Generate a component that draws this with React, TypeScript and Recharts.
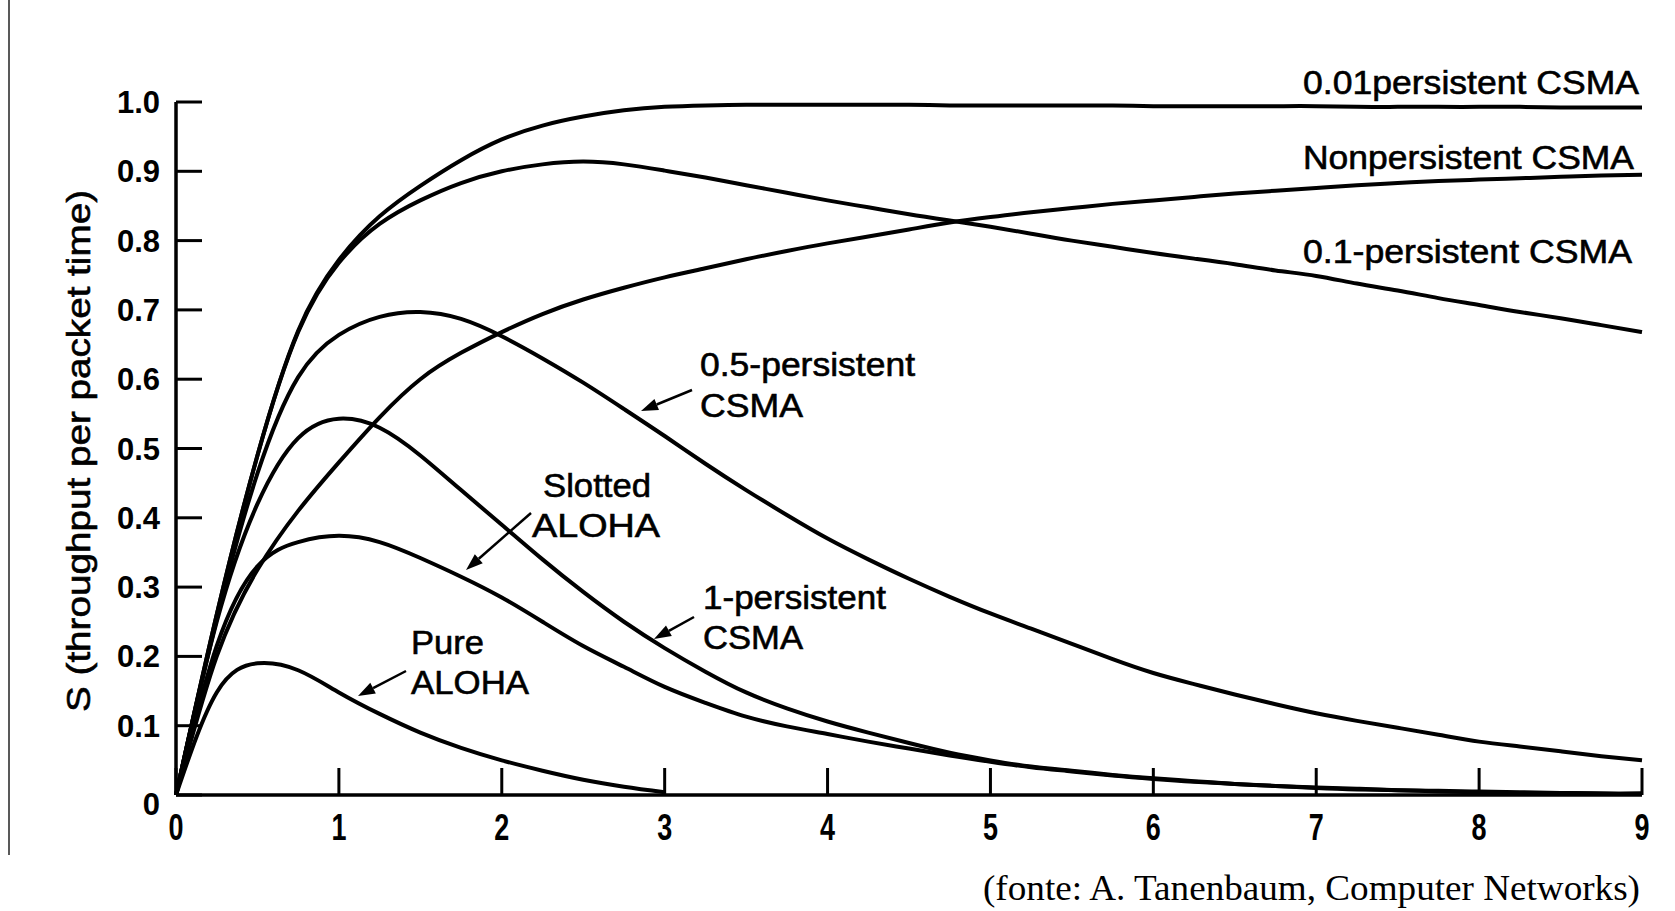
import React from 'react';
import { LineChart, Line, XAxis, YAxis } from 'recharts';

// offered load G (attempts per packet time), evenly spaced so the natural spline stays smooth
const G_VALUES = [
  0, 0.25, 0.5, 0.75, 1, 1.25, 1.5, 1.75, 2, 2.25, 2.5, 2.75, 3, 3.25, 3.5, 3.75, 4, 4.25, 4.5,
  4.75, 5, 5.25, 5.5, 5.75, 6, 6.25, 6.5, 6.75, 7, 7.25, 7.5, 7.75, 8, 8.25, 8.5, 8.75, 9,
];

// throughput S
const pureAloha = [
  0, 0.148, 0.19, 0.18, 0.148, 0.117, 0.09, 0.068, 0.05, 0.035, 0.022, 0.012, 0.004,
  null, null, null, null, null, null, null, null, null, null, null, null,
  null, null, null, null, null, null, null, null, null, null, null, null,
];
const slottedAloha = [
  0, 0.215, 0.33, 0.365, 0.374, 0.365, 0.342, 0.315, 0.285, 0.25, 0.215, 0.185, 0.156, 0.133, 0.113, 0.099,
  0.088, 0.077, 0.067, 0.057, 0.048, 0.04, 0.034, 0.028, 0.023, 0.019, 0.016, 0.013, 0.01, 0.008, 0.007,
  0.005, 0.004, 0.003, 0.003, 0.002, 0.002,
];
const persistent1 = [
  0, 0.25, 0.42, 0.515, 0.543, 0.53, 0.49, 0.44, 0.39, 0.34, 0.293, 0.25, 0.212, 0.178, 0.148, 0.125,
  0.106, 0.09, 0.075, 0.061, 0.05, 0.041, 0.035, 0.029, 0.024, 0.02, 0.016, 0.013, 0.011, 0.009, 0.007,
  0.006, 0.005, 0.004, 0.003, 0.002, 0.002,
];
const persistent05 = [
  0, 0.254, 0.464, 0.603, 0.664, 0.69, 0.697, 0.687, 0.662, 0.63, 0.595, 0.557, 0.518, 0.478, 0.44, 0.404,
  0.37, 0.34, 0.312, 0.286, 0.262, 0.24, 0.218, 0.196, 0.176, 0.16, 0.145, 0.131, 0.118, 0.107, 0.097,
  0.087, 0.077, 0.07, 0.063, 0.056, 0.05,
];
const nonpersistent = [
  0, 0.2, 0.325, 0.41, 0.48, 0.545, 0.6, 0.638, 0.668, 0.694, 0.715, 0.732, 0.747, 0.76, 0.773, 0.785,
  0.796, 0.806, 0.816, 0.826, 0.834, 0.841, 0.847, 0.853, 0.858, 0.863, 0.868, 0.872, 0.876, 0.88, 0.883,
  0.886, 0.888, 0.89, 0.892, 0.894, 0.895,
];
const persistent01 = [
  0, 0.26, 0.49, 0.668, 0.768, 0.824, 0.858, 0.883, 0.9, 0.91, 0.914, 0.91, 0.901, 0.891, 0.88, 0.869,
  0.858, 0.848, 0.838, 0.829, 0.82, 0.81, 0.8, 0.791, 0.782, 0.774, 0.766, 0.757, 0.749, 0.738, 0.728,
  0.717, 0.707, 0.697, 0.688, 0.678, 0.668,
];
const persistent001 = [
  0, 0.26, 0.49, 0.67, 0.772, 0.835, 0.879, 0.916, 0.946, 0.966, 0.979, 0.988, 0.993, 0.995, 0.996, 0.996,
  0.996, 0.996, 0.996, 0.995, 0.995, 0.995, 0.995, 0.995, 0.994, 0.994, 0.994, 0.994, 0.994, 0.993, 0.993,
  0.993, 0.993, 0.993, 0.992, 0.992, 0.992,
];

const X_TICKS = [0, 1, 2, 3, 4, 5, 6, 7, 8, 9];
const Y_TICKS = [0, 0.1, 0.2, 0.3, 0.4, 0.5, 0.6, 0.7, 0.8, 0.9, 1.0];

const SERIES = [
  { key: 'pure', values: pureAloha },
  { key: 'slotted', values: slottedAloha },
  { key: 'p1', values: persistent1 },
  { key: 'p05', values: persistent05 },
  { key: 'nonp', values: nonpersistent },
  { key: 'p01', values: persistent01 },
  { key: 'p001', values: persistent001 },
];

const data = G_VALUES.map((g, i) => {
  const row: Record<string, number | null> = { G: g };
  SERIES.forEach(s => { row[s.key] = s.values[i]; });
  return row;
});

const FONT = '"Liberation Sans", Arial, sans-serif';

const XTick = (props: any) => {
  const { x, y, payload } = props;
  return (
    <g>
      <line x1={x} y1={y} x2={x} y2={y - 27} stroke="#000" strokeWidth={3} />
      <text x={x} y={y + 45} textAnchor="middle" fontFamily={FONT} fontWeight="bold" fontSize={37}
        textLength={15} lengthAdjust="spacingAndGlyphs" fill="#000">
        {payload.value}
      </text>
    </g>
  );
};

const YTick = (props: any) => {
  const { x, y, payload } = props;
  const v = payload.value;
  const label = v === 0 ? '0' : v.toFixed(1);
  return (
    <g>
      <line x1={x} y1={y} x2={x + 26} y2={y} stroke="#000" strokeWidth={3} />
      <text x={x - 16} y={y + (v === 0 ? 20 : 11)} textAnchor="end" fontFamily={FONT} fontWeight="bold"
        fontSize={31} fill="#000">
        {label}
      </text>
    </g>
  );
};

const Arrow = ({ x1, y1, x2, y2 }: { x1: number; y1: number; x2: number; y2: number }) => {
  const a = Math.atan2(y2 - y1, x2 - x1);
  const len = 17;
  const w = 6;
  const bx = x2 - len * Math.cos(a);
  const by = y2 - len * Math.sin(a);
  const p1 = `${bx + w * Math.sin(a)},${by - w * Math.cos(a)}`;
  const p2 = `${bx - w * Math.sin(a)},${by + w * Math.cos(a)}`;
  return (
    <g>
      <line x1={x1} y1={y1} x2={bx} y2={by} stroke="#000" strokeWidth={2.5} />
      <polygon points={`${x2},${y2} ${p1} ${p2}`} fill="#000" />
    </g>
  );
};

const Label = ({ x, y, text, len }: { x: number; y: number; text: string; len: number }) => (
  <text x={x} y={y} fontFamily={FONT} fontSize={33} fill="#000" stroke="#000" strokeWidth={0.6}
    textLength={len} lengthAdjust="spacingAndGlyphs">
    {text}
  </text>
);

const App: React.FC = () => {
  return (
    <div style={{ position: 'absolute', left: 0, top: 0, width: 1675, height: 911, background: '#fff' }}>
      <LineChart width={1675} height={911} data={data} margin={{ top: 102, right: 33, bottom: 86, left: 116 }}>
        <XAxis dataKey="G" type="number" domain={[0, 9]} ticks={X_TICKS} height={30} tickSize={0} tickMargin={0}
          tickLine={false} axisLine={{ stroke: '#000', strokeWidth: 3.5 }} tick={<XTick />} interval={0} />
        <YAxis type="number" domain={[0, 1]} ticks={Y_TICKS} width={60} tickSize={0} tickMargin={0}
          tickLine={false} axisLine={{ stroke: '#000', strokeWidth: 3.5 }} tick={<YTick />} interval={0} />
        {SERIES.map(s => (
          <Line key={s.key} dataKey={s.key} type="natural" stroke="#000" strokeWidth={4} dot={false}
            activeDot={false} connectNulls={false} isAnimationActive={false} />
        ))}
      </LineChart>
      <svg width={1675} height={911} style={{ position: 'absolute', left: 0, top: 0, pointerEvents: 'none' }}>
        <line x1={9} y1={0} x2={9} y2={855} stroke="#222" strokeWidth={1.5} />
        <text transform="translate(90, 451) rotate(-90)" textAnchor="middle" fontFamily={FONT} fontSize={34}
          fill="#000" stroke="#000" strokeWidth={0.6} textLength={522} lengthAdjust="spacingAndGlyphs">
          S (throughput per packet time)
        </text>

        <Label x={1303} y={94} text="0.01persistent CSMA" len={336} />
        <Label x={1303} y={169} text="Nonpersistent CSMA" len={331} />
        <Label x={1303} y={263} text="0.1-persistent CSMA" len={329} />

        <Label x={700} y={376} text="0.5-persistent" len={215} />
        <Label x={700} y={417} text="CSMA" len={103} />
        <Arrow x1={692} y1={390} x2={641} y2={411} />

        <Label x={543} y={497} text="Slotted" len={108} />
        <Label x={532} y={537} text="ALOHA" len={128} />
        <Arrow x1={531} y1={513} x2={466} y2={570} />

        <Label x={703} y={609} text="1-persistent" len={183} />
        <Label x={703} y={649} text="CSMA" len={100} />
        <Arrow x1={694} y1={617} x2={654} y2={639} />

        <Label x={411} y={654} text="Pure" len={73} />
        <Label x={411} y={694} text="ALOHA" len={118} />
        <Arrow x1={406} y1={671} x2={358} y2={696} />

        <text x={983} y={900} fontFamily='"Liberation Serif", "Times New Roman", serif' fontSize={35} fill="#000"
          textLength={657} lengthAdjust="spacingAndGlyphs">
          (fonte: A. Tanenbaum, Computer Networks)
        </text>
      </svg>
    </div>
  );
};

export default App;
